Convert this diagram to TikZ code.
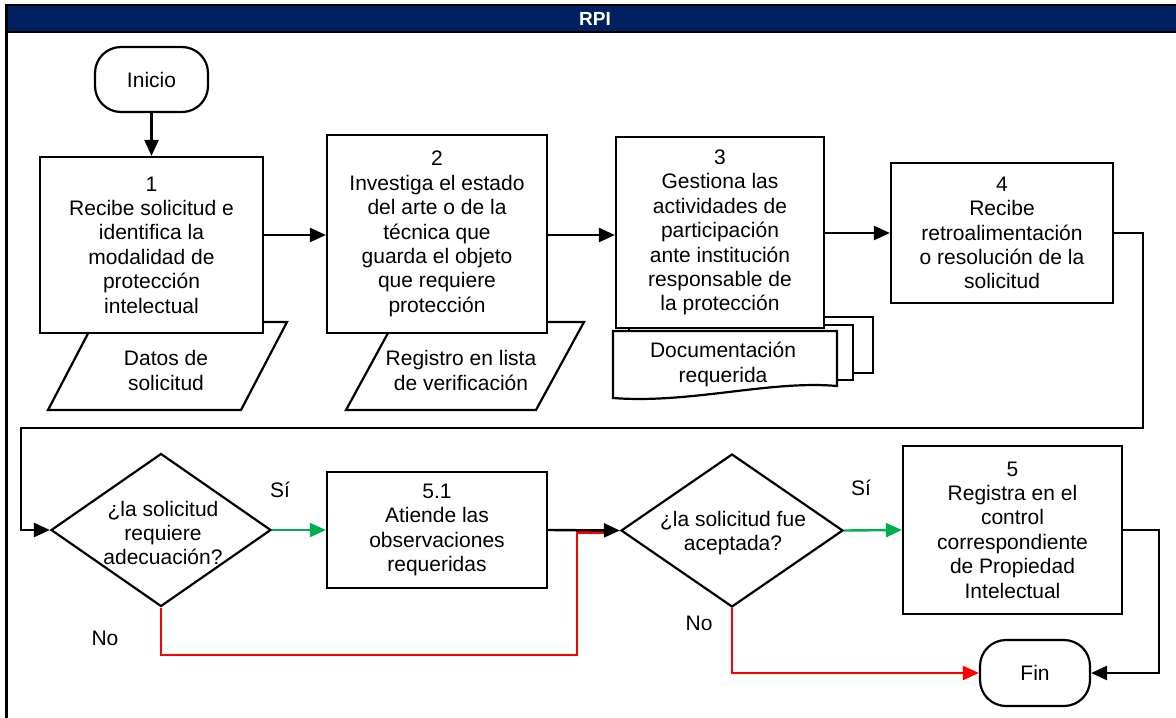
\documentclass[tikz,border=0pt]{standalone}
\usepackage{fontspec}
\setmainfont{Liberation Sans}
\usetikzlibrary{shapes.geometric,arrows.meta}
\definecolor{navy}{RGB}{0,32,96}
\definecolor{okgreen}{RGB}{0,176,80}
\definecolor{nored}{RGB}{255,0,0}
\begin{document}
\begin{tikzpicture}[x=0.5pt,y=-0.5pt,
  txt/.style={font=\fontsize{10.5pt}{12.2pt}\selectfont, align=center, inner sep=0pt},
  box/.style={txt, draw, fill=white, line width=1.1pt},
  term/.style={box, rounded corners=13pt},
  dec/.style={diamond, draw, fill=white, line width=1.1pt, inner sep=0pt},
  page/.style={draw, fill=white, line width=1.1pt},
  link/.style={line width=1.2pt, -{Triangle[length=8pt,width=7pt]}},
  yes/.style={line width=1.2pt, draw=okgreen, -{Triangle[length=8pt,width=7pt,fill=okgreen]}},
  no/.style={line width=1.2pt, draw=nored},
  noarrow/.style={no, -{Triangle[length=8pt,width=7pt,fill=nored]}},
]
\useasboundingbox (0,0) rectangle (1176,717);
\clip (0,0) rectangle (1176,717);

% frame and title band
\fill[navy] (6.5,5) rectangle (1185,32);
\draw[line width=1.2pt] (6.5,730) -- (6.5,5) -- (1185,5);
\draw[line width=1.4pt] (6.5,32) -- (1185,32);
\node[txt, font=\fontsize{9.5pt}{11pt}\selectfont\bfseries, text=white] (title) at (595,19) {RPI};

% data shapes behind the process boxes
\draw[page] (94,322) -- (287,322) -- (241,410) -- (48,410) -- cycle;
\node[txt] (datos) at (166,370.5) {Datos de\\solicitud};
\draw[page] (394,322) -- (584,322) -- (536,410) -- (346,410) -- cycle;
\node[txt] (registro) at (461,370.5) {Registro en lista\\de verificación};

% stacked document pages
\draw[page] (649,317) rectangle (873,373);
\draw[page] (629,325) rectangle (853,380);

% process boxes
\node[term, minimum width=56.5pt, minimum height=32.5pt] (inicio) at (151.5,79.5) {Inicio};
\node[box, minimum width=111.5pt, minimum height=88pt] (b1) at (151.5,245)
  {1\\Recibe solicitud e\\identifica la\\modalidad de\\protección\\intelectual};
\node[box, minimum width=110pt, minimum height=99pt] (b2) at (437,234)
  {2\\Investiga el estado\\del arte o de la\\técnica que\\guarda el objeto\\que requiere\\protección};
\node[box, minimum width=104pt, minimum height=95.5pt] (b3) at (720,232.5)
  {3\\Gestiona las\\actividades de\\participación\\ante institución\\responsable de\\la protección};
\node[box, minimum width=111pt, minimum height=70pt] (b4) at (1002,233)
  {4\\Recibe\\retroalimentación\\o resolución de la\\solicitud};

% front document with wavy bottom
\draw[page] (613,331) -- (837,331) -- (837,386)
  .. controls (770,380) and (690,404) .. (613,398) -- cycle;
\node[txt] (docs) at (723,364.5) {Documentación\\requerida};

% decisions and lower row
\node[dec, minimum width=110pt, minimum height=76.5pt] (d1) at (161,530) {};
\node[txt] (d1t) at (163,533) {¿la solicitud\\requiere\\adecuación?};
\node[box, minimum width=110pt, minimum height=58pt] (b51) at (437,530)
  {5.1\\Atiende las\\observaciones\\requeridas};
\node[dec, minimum width=111pt, minimum height=76.5pt] (d2) at (732,530.5) {};
\node[txt] (d2t) at (733,533) {¿la solicitud fue\\aceptada?};
\node[box, minimum width=109.5pt, minimum height=84pt] (b5) at (1012.5,530)
  {5\\Registra en el\\control\\correspondiente\\de Propiedad\\Intelectual};
\node[term, minimum width=55pt, minimum height=33pt] (fin) at (1035,673) {Fin};

% branch labels
\node[txt] (si1) at (280,490) {Sí};
\node[txt] (si2) at (861,488) {Sí};
\node[txt] (no1) at (105,638) {No};
\node[txt] (no2) at (699,623) {No};

% connectors
\draw[link] (inicio) -- (b1);
\draw[link] (b1.east |- 0,235) -- (b2.west |- 0,235);
\draw[link] (b2.east |- 0,235) -- (b3.west |- 0,235);
\draw[link] (b3.east |- 0,233) -- (b4.west |- 0,233);
\draw[link] (b4.east |- 0,233) -- (1143,233) -- (1143,428) -- (21,428) -- (21,530) -- (d1.west);
\draw[yes] (d1.east) -- (b51.west);
\draw[no] (d1.south) -- (161,655) -- (577,655) -- (577,532.5) -- (606,532.5);
\draw[link] (b51.east) -- (d2.west);
\draw[yes] (d2.east) -- (b5.west);
\draw[noarrow] (d2.south) -- (732,673) -- (fin.west);
\draw[link] (b5.east) -- (1159,530) -- (1159,673) -- (fin.east);
\end{tikzpicture}
\end{document}
